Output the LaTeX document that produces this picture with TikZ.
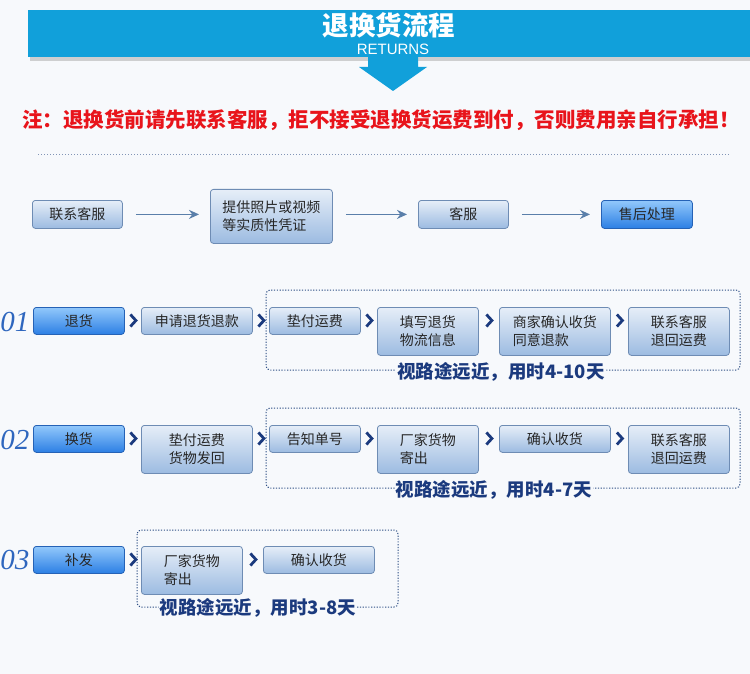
\documentclass[tikz,border=0pt]{standalone}
\usepackage{fontspec}
\setmainfont{Noto Sans CJK SC}
\newfontfamily\latinsans{Liberation Sans}
\newfontfamily\numserif{Liberation Serif}
\usetikzlibrary{calc,arrows.meta}
\definecolor{bgc}{HTML}{F7F9FC}
\definecolor{banner}{HTML}{11A0DA}
\definecolor{notered}{HTML}{E8141B}
\definecolor{navy}{HTML}{1B3A7E}
\definecolor{gtop}{HTML}{E6EEF8}
\definecolor{gbot}{HTML}{9CBBE1}
\definecolor{gline}{HTML}{6E8CB4}
\definecolor{btop}{HTML}{92C8FB}
\definecolor{bbot}{HTML}{2C7FE4}
\definecolor{bline}{HTML}{2562B6}
\definecolor{arrowc}{HTML}{5A7FAA}
\definecolor{numc}{HTML}{2E66BE}
\definecolor{dotc}{HTML}{2F4F85}
\tikzset{
  boxbase/.style={rounded corners=3pt, line width=0.8pt, anchor=north west,
    inner sep=2pt, font=\fontsize{14}{18}\selectfont, text=black!85},
  gbox/.style={boxbase, draw=gline, top color=gtop, bottom color=gbot},
  bbox/.style={boxbase, draw=bline, top color=btop, bottom color=bbot},
  flowarrow/.style={draw=arrowc, line width=1.6pt, -{Stealth[length=10pt,width=9pt]},
    shorten <=13pt, shorten >=11pt},
  chevst/.style={draw=navy, line width=2.8pt, line cap=butt, line join=miter},
  groupbox/.style={draw=dotc, line width=1pt, dash pattern=on 1.2pt off 1.6pt, rounded corners=4pt},
  durlabel/.style={fill=bgc, inner sep=1pt, text=navy,
    font=\fontsize{18.5}{20}\selectfont\bfseries},
  numlabel/.style={text=numc, font=\numserif\itshape\fontsize{29}{30}\selectfont}
}
\newcommand\chevr[2]{%
  \path (#1.north east) -- (#2.north west) coordinate[pos=0.5] (chv);
  \draw[chevst] ($(chv)+(-2.5,7.5)$) -- ($(chv)+(3,13.5)$) -- ($(chv)+(-2.5,19.5)$);}
\begin{document}
\begin{tikzpicture}[x=1pt,y=-1pt]
\fill[bgc] (0,0) rectangle (750,674);
\useasboundingbox (0,0) rectangle (750,674);
% banner
\fill[black!35, opacity=0.5] (30,13) rectangle (750,61);
\fill[banner] (28,10) rectangle (750,57);
\fill[banner] (368,56) -- (418,56) -- (418,67) -- (427,67) -- (393,91) -- (359,67) -- (368,67) -- cycle;
\node[text=white, font=\fontsize{26.5}{28}\selectfont\bfseries] (title) at (389,25) {退换货流程};
\node[text=white, font=\latinsans\fontsize{15}{16}\selectfont] (ret) at (393,49) {RETURNS};
\node[text=notered, font=\fontsize{20.5}{22}\selectfont\bfseries] (note) at (381,120)
  {注：退换货前请先联系客服，拒不接受退换货运费到付，否则费用亲自行承担！};
\draw[dotc!60, dash pattern=on 1pt off 2pt, line width=1pt] (38,155) -- (730,155);
% top row
\node[gbox, minimum width=90, minimum height=28] (t1) at (32,200) {联系客服};
\node[gbox, minimum width=122, minimum height=54, align=left] (t2) at (210,189) {提供照片或视频\\等实质性凭证};
\node[gbox, minimum width=90, minimum height=28] (t3) at (418,200) {客服};
\node[bbox, minimum width=91, minimum height=28] (t4) at (601,200) {售后处理};
\draw[flowarrow] (t1.east) -- (t1.east -| t2.west);
\draw[flowarrow] (t2.east |- t3.west) -- (t3.west);
\draw[flowarrow] (t3.east) -- (t4.west);
% row 1
\draw[groupbox] (266,290) rectangle (740,370);
\node[numlabel] (n1) at (15,322) {01};
\node[bbox, minimum width=91, minimum height=27] (a1) at (33,307) {退货};
\node[gbox, minimum width=111, minimum height=27] (a2) at (141,307) {申请退货退款};
\node[gbox, minimum width=91, minimum height=27] (a3) at (269,307) {垫付运费};
\node[gbox, minimum width=101, minimum height=48, align=center] (a4) at (377,307) {填写退货\\物流信息};
\node[gbox, minimum width=111, minimum height=48, align=left] (a5) at (499,307) {商家确认收货\\同意退款};
\node[gbox, minimum width=101, minimum height=48, align=center] (a6) at (628,307) {联系客服\\退回运费};
\chevr{a1}{a2}\chevr{a2}{a3}\chevr{a3}{a4}\chevr{a4}{a5}\chevr{a5}{a6}
\node[durlabel] (d1) at (501,372) {视路途远近，用时4-10天};
% row 2
\draw[groupbox] (266,408) rectangle (740,488);
\node[numlabel] (n2) at (15,440) {02};
\node[bbox, minimum width=91, minimum height=27] (b1) at (33,425) {换货};
\node[gbox, minimum width=111, minimum height=48, align=center] (b2) at (141,425) {垫付运费\\货物发回};
\node[gbox, minimum width=91, minimum height=27] (b3) at (269,425) {告知单号};
\node[gbox, minimum width=101, minimum height=48, align=left] (b4) at (377,425) {厂家货物\\寄出\phantom{货物}};
\node[gbox, minimum width=111, minimum height=27] (b5) at (499,425) {确认收货};
\node[gbox, minimum width=101, minimum height=48, align=center] (b6) at (628,425) {联系客服\\退回运费};
\chevr{b1}{b2}\chevr{b2}{b3}\chevr{b3}{b4}\chevr{b4}{b5}\chevr{b5}{b6}
\node[durlabel] (d2) at (494,490) {视路途远近，用时4-7天};
% row 3
\draw[groupbox] (137,530) rectangle (398,607);
\node[numlabel] (n3) at (15,560) {03};
\node[bbox, minimum width=91, minimum height=27] (c1) at (33,546) {补发};
\node[gbox, minimum width=101, minimum height=48, align=left] (c2) at (141,546) {厂家货物\\寄出\phantom{货物}};
\node[gbox, minimum width=111, minimum height=27] (c3) at (263,546) {确认收货};
\chevr{c1}{c2}\chevr{c2}{c3}
\node[durlabel] (d3) at (258,608) {视路途远近，用时3-8天};
\end{tikzpicture}
\end{document}
